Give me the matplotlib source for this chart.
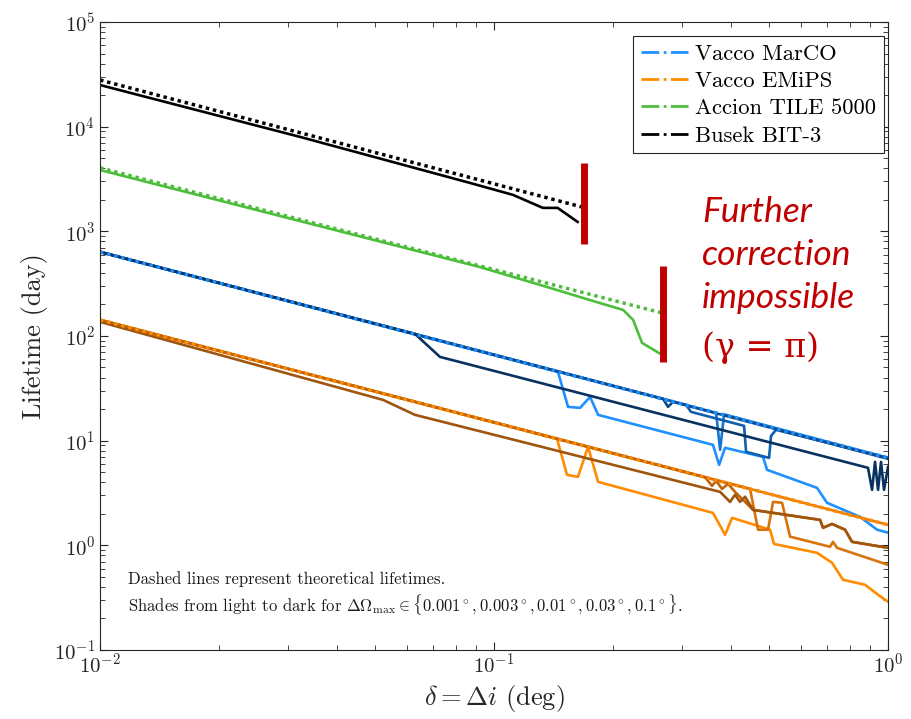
import matplotlib.pyplot as plt
from matplotlib.lines import Line2D

plt.rcParams['mathtext.fontset'] = 'cm'
plt.rcParams['font.family'] = 'cmr10'
plt.rcParams['axes.formatter.use_mathtext'] = True

# theoretical lifetimes (dotted)
marco_th_d = [0.01, 1.0]
marco_th_L = [636, 6.85]
emips_th_d = [0.01, 1.0]
emips_th_L = [142.5, 1.57]
tile_th_d = [0.01, 0.267]
tile_th_L = [4040, 166]
bit3_th_d = [0.01, 0.167]
bit3_th_L = [27900, 1710]

# Vacco MarCO, dOmega_max = 0.001, 0.003, 0.01, 0.03, 0.1 deg
m1_d = [0.01, 0.1453, 0.1541, 0.1653, 0.1753, 0.1837, 0.3595, 0.3726, 0.3858, 0.4817, 0.4931,
        0.6603, 0.6998, 0.8488, 0.9378, 1.0]
m1_L = [635.6, 45.4, 21.03, 20.57, 26.2, 17.64, 9.12, 5.87, 8.54, 7.00, 5.26,
        3.54, 2.55, 1.87, 1.41, 1.32]
m2_d = [0.01, 0.3661, 0.3748, 0.3836, 1.0]
m2_L = [635.6, 18.43, 8.17, 17.83, 6.85]
m3_d = [0.01, 0.3071, 0.3162, 0.4311, 0.4362, 0.4989, 0.5047, 0.5196, 1.0]
m3_L = [635.6, 21.98, 18.84, 13.85, 7.82, 6.85, 11.12, 12.68, 6.85]
m4_d = [0.01, 0.2686, 0.2764, 0.2846, 1.0]
m4_L = [635.6, 25.07, 21.03, 23.48, 6.70]
m5_d = [0.01, 0.0630, 0.0729, 0.8896, 0.9108, 0.9268, 0.9432, 0.9598, 0.9768, 1.0]
m5_L = [635.6, 104.7, 63.15, 5.50, 3.39, 6.27, 3.39, 6.27, 3.39, 5.62]

# Vacco EMiPS
e1_d = [0.01, 0.1445, 0.1532, 0.1633, 0.1732, 0.1837, 0.3595, 0.3858, 0.4019, 0.5017, 0.5137,
        0.6603, 0.7208, 0.7687, 0.8741, 0.9432, 1.0]
e1_L = [142.5, 10.40, 4.71, 4.51, 8.73, 4.04, 2.04, 1.26, 1.83, 1.41, 1.03,
        0.848, 0.681, 0.468, 0.420, 0.337, 0.289]
e2_d = [0.01, 1.0]
e2_L = [142.5, 1.57]
e3_d = [0.01, 0.4464, 0.4678, 0.4959, 0.5106, 0.5383, 0.5641, 0.7124, 0.7251, 0.7422, 1.0]
e3_L = [142.5, 3.46, 1.41, 1.41, 2.60, 2.55, 1.21, 0.968, 1.08, 0.946, 0.651]
e4_d = [0.01, 0.3431, 0.3575, 0.3661, 0.3791, 0.3926, 0.4089, 0.4544, 0.6720, 0.6839, 0.7208,
        0.7778, 0.8101, 1.0]
e4_L = [142.5, 4.47, 3.70, 4.13, 3.46, 3.87, 3.24, 2.18, 1.75, 1.47, 1.60,
        1.41, 1.08, 0.946]
e5_d = [0.01, 0.0523, 0.0630, 0.3748, 0.3972, 0.4089, 0.4210, 0.4337, 0.4544, 0.6720, 0.6839,
        0.7208, 0.7778, 0.8101, 1.0]
e5_L = [136.4, 24.5, 17.64, 3.24, 2.60, 3.04, 2.60, 2.91, 2.18, 1.75, 1.47,
        1.60, 1.41, 1.08, 0.946]

# Accion TILE 5000 / Busek BIT-3 (all shades coincide)
tile_d = [0.01, 0.0922, 0.1387, 0.1783, 0.2126, 0.2254, 0.2375, 0.2670]
tile_L = [3856, 455, 288, 216, 177.5, 142.5, 85.9, 66.0]
bit3_d = [0.01, 0.0322, 0.0869, 0.1117, 0.133, 0.145, 0.163]
bit3_L = [25000, 7980, 2900, 2230, 1675, 1675, 1230]

# red limit bars
bars_d = [0.1692, 0.2686]
bars_lo = [758, 56.6]
bars_hi = [4500, 467]

blues = ['#1E90FF', '#1676D6', '#105EAE', '#0C4886', '#08325F']
oranges = ['#FF8C00', '#EB7D05', '#D7730A', '#BE640A', '#A0550F']
green = '#4DBE3C'
red = '#C00000'

fig = plt.figure(figsize=(9.11, 7.19), dpi=100)
ax = fig.add_axes([0.1098, 0.096, 0.865, 0.8734])
ax.set_xscale('log')
ax.set_yscale('log')

lw = 1.9
for d, L, c in zip([m1_d, m2_d, m3_d, m4_d, m5_d], [m1_L, m2_L, m3_L, m4_L, m5_L], blues):
    ax.plot(d, L, color=c, lw=lw)
for d, L, c in zip([e1_d, e2_d, e3_d, e4_d, e5_d], [e1_L, e2_L, e3_L, e4_L, e5_L], oranges):
    ax.plot(d, L, color=c, lw=lw)
ax.plot(tile_d, tile_L, color=green, lw=lw)
ax.plot(bit3_d, bit3_L, color='k', lw=lw)

dot = (0, (1, 1.1))
ax.plot(marco_th_d, marco_th_L, color=blues[0], lw=2.5, ls=dot)
ax.plot(emips_th_d, emips_th_L, color=oranges[0], lw=2.5, ls=dot)
ax.plot(tile_th_d, tile_th_L, color=green, lw=2.5, ls=dot)
ax.plot(bit3_th_d, bit3_th_L, color='k', lw=2.5, ls=dot)

ax.vlines(bars_d, bars_lo, bars_hi, color=red, lw=5)

ax.set_xlim(0.01, 1)
ax.set_ylim(0.1, 1e5)
ax.tick_params(which='both', direction='in', top=True, right=True, colors='0.15')
ax.tick_params(which='major', length=6, labelsize=15)
ax.tick_params(which='minor', length=3.5)
ax.tick_params(axis='x', pad=2)
for s in ax.spines.values():
    s.set_color('0.15')
    s.set_linewidth(0.8)

ax.set_ylabel('Lifetime (day)', fontsize=19, color='0.15', labelpad=4)
ax.set_xlabel(r'$\delta = \Delta i$ (deg)', fontsize=19, color='0.15', labelpad=4)

handles = [Line2D([], [], color=c, ls='-.', lw=2) for c in [blues[0], oranges[0], green, 'k']]
leg = ax.legend(handles, ['Vacco MarCO', 'Vacco EMiPS', 'Accion TILE 5000', 'Busek BIT-3'],
                loc='upper right', bbox_to_anchor=(0.995, 0.978), borderaxespad=0,
                fontsize=16.3, fancybox=False, framealpha=1, edgecolor='0.15',
                handlelength=2.1, handletextpad=0.3, labelspacing=0.33, borderpad=0.35)
leg.get_frame().set_linewidth(0.8)

ax.text(0.0355, 0.113, 'Dashed lines represent theoretical lifetimes.', transform=ax.transAxes,
        fontsize=12, va='center', color='0.1')
ax.text(0.0355, 0.0717,
        r'Shades from light to dark for $\Delta\Omega_{\mathrm{max}} \in \{0.001^\circ, 0.003^\circ, 0.01^\circ, 0.03^\circ, 0.1^\circ\}$.',
        transform=ax.transAxes, fontsize=12, va='center', color='0.1')

red_fam = ['Lato', 'DejaVu Sans']
for txt, yb in zip(['Further', 'correction', 'impossible'], [222, 265, 308]):
    fig.text(0.7706, 1 - yb / 719, txt, color=red, fontsize=25.5, family=red_fam,
             style='italic', va='baseline', ha='left')
fig.text(0.7706, 1 - 357 / 719, '(\u03b3 = \u03c0)', color=red, fontsize=24,
         family=['DejaVu Serif'], va='baseline', ha='left')

fig.savefig('out.png', dpi=100, facecolor='white')
